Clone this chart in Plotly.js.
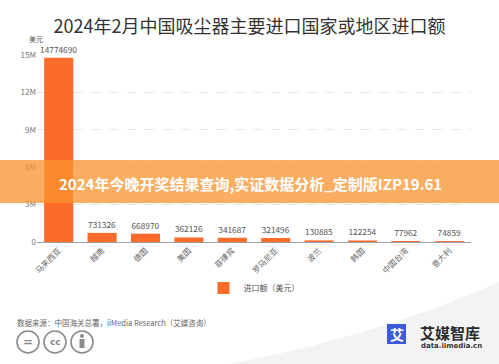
<!DOCTYPE html>
<html><head><meta charset="utf-8">
<script src="https://cdn.plot.ly/plotly-3.0.1.min.js"></script>
<style>html,body{margin:0;padding:0;background:#fff;}#chart{width:499px;height:364px;}</style>
</head><body><div id="chart"></div>
<script>
const categories = ["马来西亚","越南","德国","美国","菲律宾","罗马尼亚","波兰","韩国","中国台湾","意大利"];
const values = [14774690,731326,668970,362126,341687,321496,130885,122254,77962,74859];
const seriesName = "进口额（美元）";
const yTickVals = [0,3000000,6000000,9000000,12000000,15000000];
const yTickText = ["0","3M","6M","9M","12M","15M"];
const titleText = "2024年2月中国吸尘器主要进口国家或地区进口额";
const bannerText = "2024年今晚开奖结果查询,实证数据分析_定制版IZP19.61";
const sourceText = "数据来源：中国海关总署，iiMedia Research（艾媒咨询）";

const W=499,H=364,L=37,R=28,T=55,B=122;
const pw=W-L-R, ph=H-T-B;
const px = x => (x-L)/pw;
const py = y => (H-B-y)/ph;
const FONT = "Noto Sans CJK SC, Noto Sans, sans-serif";

const shapes = [
  {type:'path', xref:'paper', yref:'paper', layer:'below',
   path:`M ${px(230)},${py(364)} Q ${px(380)},${py(335)} ${px(499)},${py(282)} L ${px(499)},${py(364)} Z`,
   fillcolor:'#f3f3f3', line:{width:0}},
  {type:'rect', xref:'paper', yref:'paper', x0:px(0), x1:px(499), y0:py(203), y1:py(160),
   fillcolor:'rgba(250,148,48,0.76)', line:{width:0}},
  // CC icons
  {type:'circle', xref:'paper', yref:'paper', x0:px(17), x1:px(39), y0:py(353), y1:py(331), line:{color:'#8a8a8a',width:1.6}},
  {type:'circle', xref:'paper', yref:'paper', x0:px(44), x1:px(66), y0:py(353), y1:py(331), line:{color:'#8a8a8a',width:1.6}},
  {type:'circle', xref:'paper', yref:'paper', x0:px(71), x1:px(93), y0:py(353), y1:py(331), line:{color:'#8a8a8a',width:1.6}},
  {type:'circle', xref:'paper', yref:'paper', x0:px(80), x1:px(84), y0:py(338), y1:py(334), fillcolor:'#8a8a8a', line:{width:0}},
  {type:'rect', xref:'paper', yref:'paper', x0:px(79.5), x1:px(84.5), y0:py(348), y1:py(339), fillcolor:'#8a8a8a', line:{width:0}},
  // logo square
  {type:'rect', xref:'paper', yref:'paper', x0:px(387), x1:px(406), y0:py(344), y1:py(324), fillcolor:'#3d5bd8', line:{width:0}}
];

function ann(text,x,y,font,xanchor){
  return {text:text, xref:'paper', yref:'paper', x:px(x), y:py(y), xanchor:xanchor||'center', yanchor:'middle', showarrow:false, font:font};
}
const annotations = [
  ann("美元",36,39.5,{family:FONT,size:7,color:'#555'}),
  ann("<b>"+bannerText+"</b>",250,183,{family:FONT,size:15,color:'#ffffff'}),
  ann(sourceText,15,322,{family:FONT,size:7.5,color:'#666'},'left'),
  ann("<b>=</b>",28,342,{family:'DejaVu Sans',size:12,color:'#8a8a8a'}),
  ann("<b>cc</b>",55,342,{family:'DejaVu Sans',size:9,color:'#8a8a8a'}),
  ann("<b>艾</b>",396.5,334,{family:FONT,size:14,color:'#ffffff'}),
  ann("<b>艾媒智库</b>",418,332,{family:FONT,size:15,color:'#2b2b2b'},'left'),
  ann("<b>data.iimedia.cn</b>",419,346,{family:'DejaVu Sans',size:7,color:'#333'},'left')
];

const trace = {
  type:'bar', x:categories, y:values, name:seriesName,
  marker:{color:'#fd6b2a'},
  text:values.map(String), textposition:'outside', cliponaxis:false, constraintext:'none',
  textfont:{family:FONT,size:8.3,color:'#555'},
  hoverinfo:'none'
};

const layout = {
  width:W, height:H, margin:{l:L,r:R,t:T,b:B},
  paper_bgcolor:'#fff', plot_bgcolor:'#fff',
  font:{family:FONT},
  title:{text:titleText, x:0.5, xref:'container', xanchor:'center', y:1-27/H, yanchor:'middle', font:{family:FONT,size:18,color:'#333'}},
  bargap:0.33,
  showlegend:true,
  legend:{orientation:'h', x:0.5, xanchor:'center', y:py(288), yanchor:'middle', font:{family:FONT,size:8,color:'#555'}, itemwidth:30},
  xaxis:{tickangle:-45, tickfont:{family:FONT,size:8,color:'#666'}, showline:true, linecolor:'#9aa0a6', linewidth:1, ticks:'', showgrid:false, fixedrange:true},
  yaxis:{range:[0,15000000], tickvals:yTickVals, ticktext:yTickText, tickfont:{family:FONT,size:8,color:'#777'}, showgrid:true, gridcolor:'#e6e6e6', griddash:'dash', zeroline:false, showline:false, ticks:'', ticklen:0},
  shapes:shapes, annotations:annotations
};

Plotly.newPlot('chart',[trace],layout,{displayModeBar:false,staticPlot:true});
</script></body></html>
